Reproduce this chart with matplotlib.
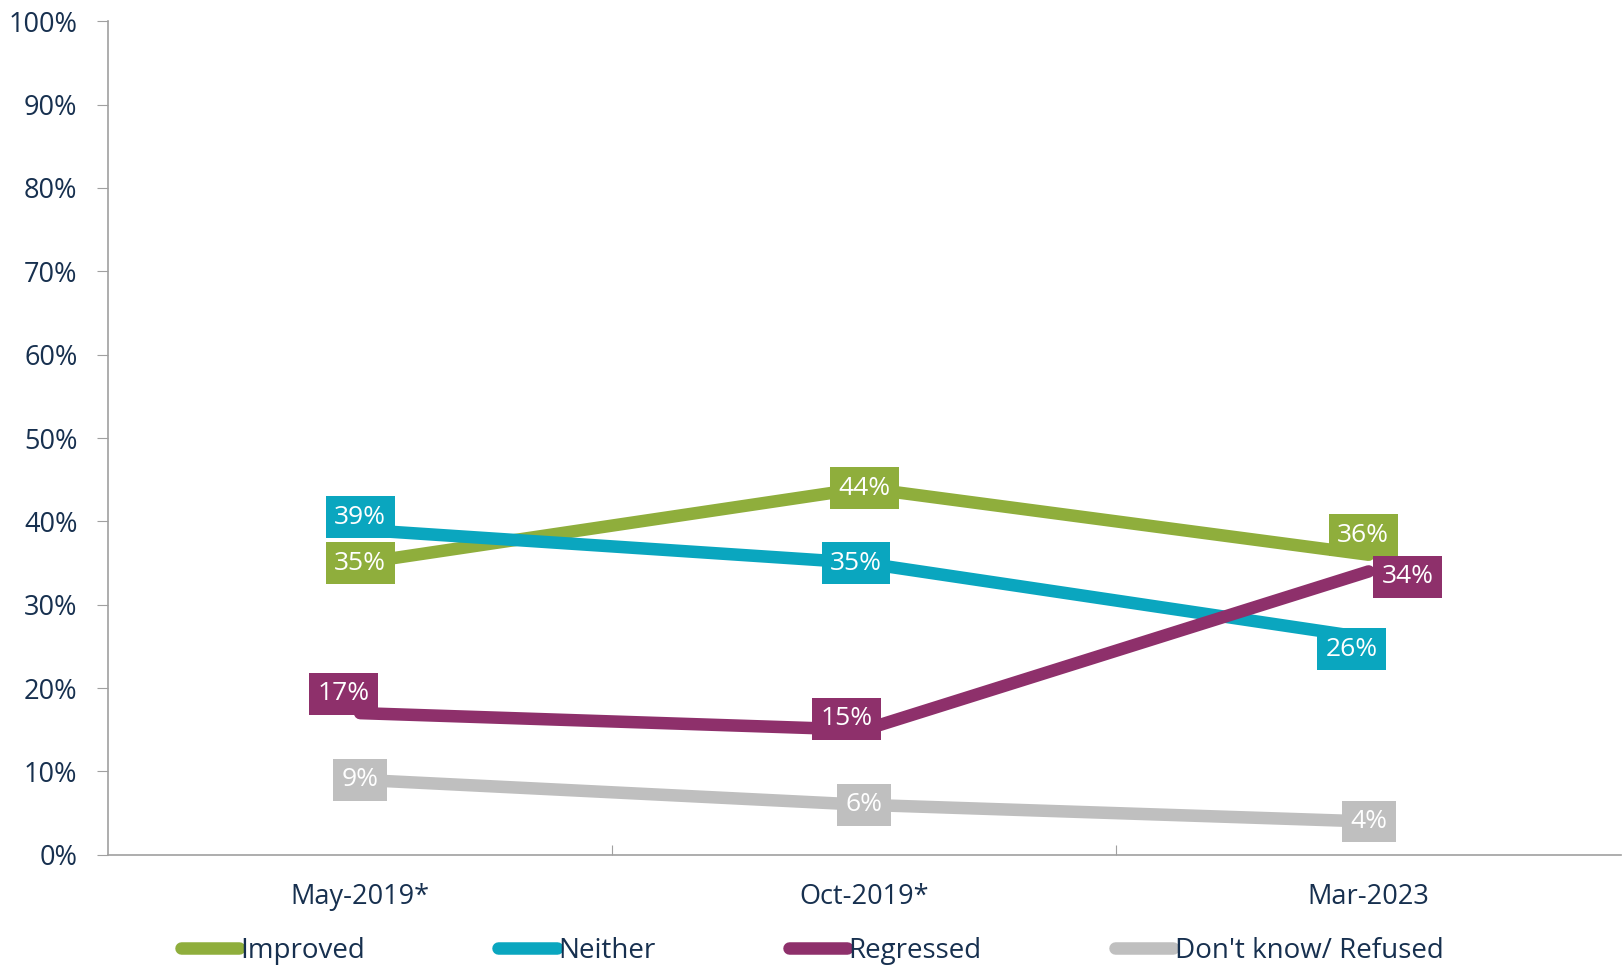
import matplotlib.pyplot as plt
from matplotlib.ticker import PercentFormatter

periods = ["May-2019*", "Oct-2019*", "Mar-2023"]
improved = [35, 44, 36]
neither = [39, 35, 26]
regressed = [17, 15, 34]
dont_know = [9, 6, 4]

series = [
    ("Improved", improved, "#8FAE3C"),
    ("Neither", neither, "#0AA6BF"),
    ("Regressed", regressed, "#8E306B"),
    ("Don't know/ Refused", dont_know, "#BFBFBF"),
]

# label nudges in points (dx, dy) to keep boxes apart
nudges = {
    "Improved": [(0, 0), (0, 0), (-4, 14)],
    "Neither": [(0, 9), (-6, 0), (-12, -8)],
    "Regressed": [(-12, 14), (-13, 8), (28, -4)],
    "Don't know/ Refused": [(0, 0), (0, 0), (0, 0)],
}

text_color = "#17304F"
plt.rcParams['font.family'] = ['Open Sans', 'DejaVu Sans']

fig = plt.figure(figsize=(16.24, 9.67), dpi=100)
ax = fig.add_axes([0.0665, 0.116, 0.9315, 0.862])

x = [i + 0.5 for i in range(len(periods))]
for name, vals, color in series:
    ax.plot(x, vals, color=color, lw=9, solid_capstyle='round', label=name)
    for xi, v, (dx, dy) in zip(x, vals, nudges[name]):
        ax.annotate(f"{v}%", (xi, v), xytext=(dx, dy), textcoords='offset points',
                    ha='center', va='center', color='white', fontsize=19,
                    bbox=dict(boxstyle='square,pad=0.32', fc=color, ec='none'))

ax.set_xlim(0, 3)
ax.set_ylim(0, 100)
ax.set_yticks(range(0, 101, 10))
ax.yaxis.set_major_formatter(PercentFormatter(decimals=0))
ax.set_xticks([1, 2])
ax.set_xticklabels([])
ax.set_xticks(x, minor=True)
ax.set_xticklabels(periods, minor=True)
ax.tick_params(axis='x', which='minor', length=0, pad=20)
ax.tick_params(axis='x', which='major', length=7, direction='in', color='#A0A0A0')
ax.tick_params(axis='y', length=8, color='#A0A0A0', pad=14)
for lab in ax.get_xticklabels(minor=True) + ax.get_yticklabels():
    lab.set_color(text_color)
    lab.set_fontsize(19.5)

for side in ['top', 'right']:
    ax.spines[side].set_visible(False)
for side in ['left', 'bottom']:
    ax.spines[side].set_color('#A0A0A0')
    ax.spines[side].set_linewidth(1.2)

leg = fig.legend(loc='lower center', bbox_to_anchor=(0.5, -0.024), ncol=4, frameon=False,
                 fontsize=20, handlelength=2.1, handletextpad=0.05, columnspacing=4.8)
for t in leg.get_texts():
    t.set_color(text_color)

fig.savefig("out.png", dpi=100)
